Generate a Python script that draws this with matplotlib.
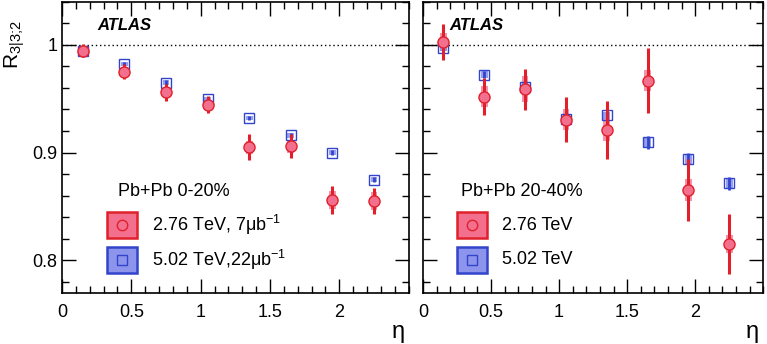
import matplotlib
matplotlib.use("Agg")
import matplotlib.pyplot as plt
from matplotlib.patches import Rectangle
from matplotlib.ticker import MultipleLocator

plt.rcParams['font.family'] = ['Liberation Sans', 'DejaVu Sans']
plt.rcParams['mathtext.fontset'] = 'custom'
plt.rcParams['mathtext.rm'] = 'Liberation Sans'
plt.rcParams['mathtext.it'] = 'Liberation Sans:italic'

eta = [0.15, 0.45, 0.75, 1.05, 1.35, 1.65, 1.95, 2.25]

# Left panel: Pb+Pb 0-20%
c1_276_val = [0.9945, 0.975, 0.956, 0.9446, 0.905, 0.906, 0.856, 0.855]
c1_276_stat = [0.006, 0.007, 0.008, 0.008, 0.012, 0.011, 0.013, 0.012]
c1_276_sys = [0.004, 0.004, 0.004, 0.004, 0.006, 0.006, 0.008, 0.008]
c1_502_val = [0.994, 0.982, 0.965, 0.9495, 0.932, 0.916, 0.900, 0.875]
c1_502_stat = [0.002, 0.002, 0.002, 0.002, 0.002, 0.002, 0.002, 0.002]
c1_502_sys = [0.002, 0.002, 0.002, 0.002, 0.002, 0.002, 0.002, 0.002]

# Right panel: Pb+Pb 20-40%
c2_276_val = [1.0025, 0.952, 0.9588, 0.9305, 0.921, 0.9668, 0.8653, 0.8151]
c2_276_stat = [0.017, 0.017, 0.019, 0.021, 0.027, 0.030, 0.029, 0.028]
c2_276_sys = [0.008, 0.010, 0.012, 0.010, 0.010, 0.010, 0.010, 0.008]
c2_502_val = [0.9975, 0.9723, 0.9612, 0.9316, 0.9345, 0.9096, 0.8936, 0.8714]
c2_502_stat = [0.003, 0.003, 0.003, 0.003, 0.003, 0.006, 0.006, 0.006]
c2_502_sys = [0.003, 0.003, 0.003, 0.003, 0.003, 0.005, 0.005, 0.005]

RED = '#e0202a'
PINK = '#f26f8e'
BLUE = '#3344cc'
LBLUE = '#8c94ec'

W, H = 767, 344
fig = plt.figure(figsize=(W / 100, H / 100), dpi=100)

def ax_at(x0, x1, y0, y1):
    return fig.add_axes([x0 / W, 1 - y1 / H, (x1 - x0) / W, (y1 - y0) / H])

axL = ax_at(62, 408.7, 1.7, 292.7)
axR = ax_at(423, 763.3, 1.7, 292.7)

def draw(ax, vr, sr, yr, vb, sb, yb):
    bw = 0.05
    for x, v, s in zip(eta, vr, yr):
        ax.add_patch(Rectangle((x - bw / 2, v - s), bw, 2 * s, facecolor=PINK,
                               edgecolor='none', alpha=0.75, zorder=2))
    for x, v, s in zip(eta, vb, yb):
        ax.add_patch(Rectangle((x - bw / 2, v - s), bw, 2 * s, facecolor=LBLUE,
                               edgecolor='none', alpha=0.9, zorder=2))
    ax.errorbar(eta, vb, yerr=sb, fmt='s', ms=7.5, mfc='none', mec=BLUE, mew=1.0,
                ecolor=BLUE, elinewidth=2.0, capsize=0, zorder=3)
    ax.errorbar(eta, vr, yerr=sr, fmt='o', ms=8, mfc=PINK, mec=RED, mew=1.0,
                ecolor=RED, elinewidth=2.2, capsize=0, zorder=4)
    ax.axhline(1.0, color='black', ls=(0, (1, 2)), lw=1.0, zorder=1)
    ax.set_xlim(0, 2.5)
    ax.set_ylim(0.77, 1.04)
    ax.xaxis.set_major_locator(MultipleLocator(0.5))
    ax.xaxis.set_minor_locator(MultipleLocator(0.1))
    ax.yaxis.set_major_locator(MultipleLocator(0.1))
    ax.yaxis.set_minor_locator(MultipleLocator(0.02))
    ax.tick_params(which='both', direction='in', top=True, right=True, width=1.0)
    ax.tick_params(which='major', length=10, labelsize=13)
    ax.tick_params(which='minor', length=5)
    ax.tick_params(axis='x', pad=8)
    for sp in ax.spines.values():
        sp.set_linewidth(1.2)
    ax.set_xticks([0, 0.5, 1, 1.5, 2])
    ax.set_xticklabels(['0', '0.5', '1', '1.5', '2'])

draw(axL, c1_276_val, c1_276_stat, c1_276_sys, c1_502_val, c1_502_stat, c1_502_sys)
draw(axR, c2_276_val, c2_276_stat, c2_276_sys, c2_502_val, c2_502_stat, c2_502_sys)
axL.set_yticks([0.8, 0.9, 1.0])
axL.set_yticklabels(['0.8', '0.9', '1'])
axR.tick_params(axis='y', labelleft=False)

def legend(x_text, x_box, title, lab1, lab2):
    fig.text(x_text / W, 1 - 192 / H, title, fontsize=13, va='center', ha='left')
    for (yc, fc, ec, mk, lab) in [(225, PINK, RED, 'o', lab1), (260, LBLUE, BLUE, 's', lab2)]:
        fig.patches.append(Rectangle((x_box / W, 1 - (yc + 13) / H), 30 / W, 26 / H,
                                     transform=fig.transFigure, facecolor=fc, edgecolor=ec,
                                     lw=1.8, figure=fig))
        fig.add_artist(plt.Line2D([(x_box + 15) / W], [1 - yc / H], marker=mk, ms=7.5,
                                  mfc='none', mec=ec, mew=1.0, transform=fig.transFigure))
        fig.text((x_box + 45) / W, 1 - yc / H, lab, fontsize=13, va='center', ha='left')

legend(118, 107, 'Pb+Pb 0-20%', '2.76 TeV, 7μb$^{-1}$', '5.02 TeV,22μb$^{-1}$')
legend(461, 457, 'Pb+Pb 20-40%', '2.76 TeV', '5.02 TeV')

fig.text(97 / W, 1 - 26 / H, 'ATLAS', fontsize=12, fontweight='bold', fontstyle='italic',
         va='center', ha='left')
fig.text(449 / W, 1 - 26 / H, 'ATLAS', fontsize=12, fontweight='bold', fontstyle='italic',
         va='center', ha='left')

fig.text(15 / W, 1 - 44 / H, r'R$_{3|3;\!2}$', fontsize=15, rotation=90, va='center', ha='center')
fig.text(398 / W, 1 - 332 / H, 'η', fontsize=17, va='center', ha='center')
fig.text(752 / W, 1 - 332 / H, 'η', fontsize=17, va='center', ha='center')

fig.savefig('out.png', dpi=100)
